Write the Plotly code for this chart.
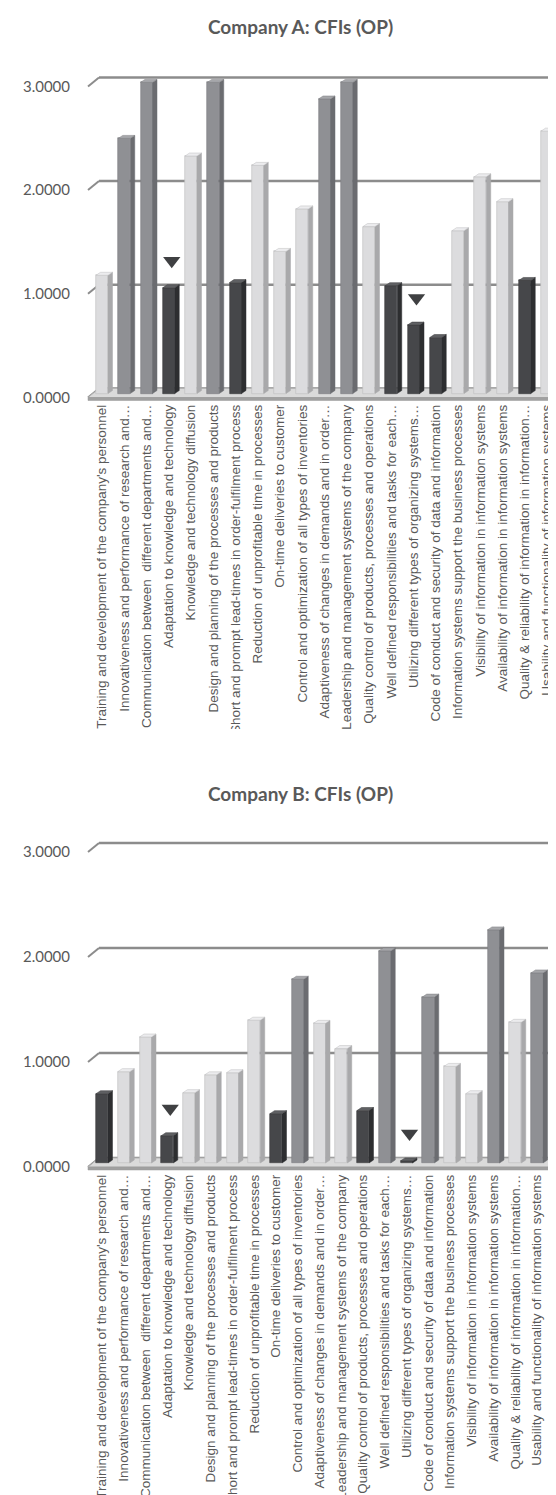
import plotly.graph_objects as go

# ---- data ----
categories = [
    "Training and development of the company's personnel",
    "Innovativeness and performance of research and…",
    "Communication between  different departments and…",
    "Adaptation to knowledge and technology",
    "Knowledge and technology diffusion",
    "Design and planning of the processes and products",
    "Short and prompt lead-times in order-fulfilment process",
    "Reduction of unprofitable time in processes",
    "On-time deliveries to customer",
    "Control and optimization of all types of inventories",
    "Adaptiveness of changes in demands and in order…",
    "Leadership and management systems of the company",
    "Quality control of products, processes and operations",
    "Well defined responsibilities and tasks for each…",
    "Utilizing different types of organizing systems…",
    "Code of conduct and security of data and information",
    "Information systems support the business processes",
    "Visibility of information in information systems",
    "Availability of information in information systems",
    "Quality & reliability of information in information…",
    "Usability and functionality of information systems",
]

company_a = [1.14, 2.46, 3.00, 1.02, 2.29, 3.00, 1.07, 2.20, 1.37, 1.78, 2.84,
             3.00, 1.61, 1.04, 0.66, 0.54, 1.57, 2.09, 1.85, 1.09, 2.53]
company_b = [0.66, 0.87, 1.20, 0.26, 0.67, 0.84, 0.86, 1.36, 0.47, 1.75, 1.33,
             1.09, 0.50, 2.02, 0.02, 1.58, 0.92, 0.66, 2.22, 1.34, 1.81]

shade_a = ['light', 'medium', 'medium', 'dark', 'light', 'medium', 'dark',
           'light', 'light', 'light', 'medium', 'medium', 'light', 'dark',
           'dark', 'dark', 'light', 'light', 'light', 'dark', 'light']
shade_b = ['dark', 'light', 'light', 'dark', 'light', 'light', 'light',
           'light', 'dark', 'medium', 'light', 'light', 'dark', 'medium',
           'dark', 'medium', 'light', 'light', 'medium', 'light', 'medium']

# bars marked with a triangle (index into categories)
flag_a = [3, 14]
flag_b = [3, 14]

y_ticks = [0, 1, 2, 3]
y_tick_text = ['0.0000', '1.0000', '2.0000', '3.0000']

# ---- styling ----
W, H = 556, 1495
SHADES = {
    'light':  dict(face='#dcdcde', side='#a9a9ab', top='#ececee', edge='#bdbdbf'),
    'medium': dict(face='#8f9094', side='#6b6c70', top='#a6a7aa', edge='#7c7d81'),
    'dark':   dict(face='#46474a', side='#2d2e30', top='#5f6063', edge='#3a3b3d'),
}
GRID = '#8c8c8c'
TEXT = '#595959'


def py(px):
    return 1 - px / H


charts = [
    dict(title='Company A: CFIs (OP)', values=company_a, shades=shade_a, flags=flag_a,
         xa='x', ya='y', title_px=19, zero_px=385.5, unit_px=103.7,
         x0_px=94, step_px=22.25, top_px=45, bottom_px=393),
    dict(title='Company B: CFIs (OP)', values=company_b, shades=shade_b, flags=flag_b,
         xa='x2', ya='y2', title_px=785, zero_px=1155, unit_px=105,
         x0_px=94, step_px=21.75, top_px=810, bottom_px=1163),
]

fig = go.Figure()
shapes = []
annotations = []
left_px = 76

for k, c in enumerate(charts):
    n = len(c['values'])
    sx, sy = c['step_px'], c['unit_px']
    xs = list(range(n))
    half = 6 / sx          # half width of the front face
    side = 4.5 / sx        # depth of the side face
    rise = 3 / sy          # rise of the top face
    xref, yref = c['xa'], c['ya']

    # back wall gridlines + short diagonal on the left edge
    fl_x = (80 - c['x0_px']) / sx
    bk_x = fl_x + 11 / sx
    x_end = (W - c['x0_px']) / sx
    for v in y_ticks:
        vf = v - 4 / sy
        vb = v + 5 / sy
        shapes.append(dict(type='line', xref=xref, yref=yref, x0=bk_x, x1=x_end,
                           y0=vb, y1=vb, line=dict(color=GRID, width=2.5), layer='below'))
        shapes.append(dict(type='line', xref=xref, yref=yref, x0=fl_x, x1=bk_x,
                           y0=vf, y1=vb, line=dict(color=GRID, width=2), layer='below'))

    # floor
    fr_x = (546 - c['x0_px']) / sx
    f0, f1, f2 = -4 / sy, 5 / sy, -7 / sy
    shapes.append(dict(type='path', xref=xref, yref=yref, layer='below',
                       path=f'M {fl_x},{f0} L {bk_x},{f1} L {fr_x + 11 / sx},{f1} L {fr_x},{f0} Z',
                       fillcolor='#dadada', line=dict(color='#b4b4b4', width=1)))
    shapes.append(dict(type='path', xref=xref, yref=yref, layer='below',
                       path=f'M {fl_x},{f0} L {fr_x},{f0} L {fr_x + 11 / sx},{f1} L {fr_x + 11 / sx},{f1 + f2 - f0} L {fr_x},{f2} L {fl_x},{f2} Z',
                       fillcolor='#a0a0a0', line=dict(color='#999999', width=0.5)))

    # front faces
    fig.add_trace(go.Bar(
        x=xs, y=c['values'], width=2 * half,
        marker=dict(color=[SHADES[s]['face'] for s in c['shades']],
                    line=dict(color=[SHADES[s]['edge'] for s in c['shades']], width=0.6)),
        xaxis=xref, yaxis=yref, showlegend=False, hoverinfo='skip'
    ))

    # side and top faces
    for i, (v, s) in enumerate(zip(c['values'], c['shades'])):
        xl, xr = i - half, i + half
        col = SHADES[s]
        shapes.append(dict(type='path', xref=xref, yref=yref, layer='above',
                           path=f'M {xr},0 L {xr + side},{rise} L {xr + side},{v + rise} L {xr},{v} Z',
                           fillcolor=col['side'], line=dict(color=col['side'], width=0.5)))
        shapes.append(dict(type='path', xref=xref, yref=yref, layer='above',
                           path=f'M {xl},{v} L {xl + side},{v + rise} L {xr + side},{v + rise} L {xr},{v} Z',
                           fillcolor=col['top'], line=dict(color=col['edge'], width=0.5)))

    # triangle markers above flagged bars
    fig.add_trace(go.Scatter(
        x=[i + 3 / sx for i in c['flags']],
        y=[c['values'][i] + 0.26 for i in c['flags']],
        mode='markers', marker=dict(symbol='triangle-down', size=15, color='#3f4042'),
        xaxis=xref, yaxis=yref, showlegend=False, hoverinfo='skip'
    ))

    ax = dict(
        domain=[left_px / W, 1],
        range=[(left_px - c['x0_px']) / sx, (W - c['x0_px']) / sx],
        tickmode='array', tickvals=xs, ticktext=categories, tickangle=-90,
        showgrid=False, zeroline=False, showline=False, ticks='',
        tickfont=dict(family='Liberation Sans, Arial, sans-serif', size=13.5, color=TEXT),
        anchor=yref, automargin=False,
    )
    ay = dict(
        domain=[py(c['bottom_px']), py(c['top_px'])],
        range=[(c['zero_px'] - c['bottom_px']) / sy, (c['zero_px'] - c['top_px']) / sy],
        tickmode='array', tickvals=[v - 4 / sy for v in y_ticks], ticktext=y_tick_text,
        showgrid=False, zeroline=False, showline=False,
        ticks='outside', ticklen=10, tickcolor='rgba(0,0,0,0)',
        tickfont=dict(family='Lato, Open Sans, sans-serif', size=15, color=TEXT),
        anchor=xref, automargin=False,
    )
    suffix = '' if k == 0 else str(k + 1)
    fig.update_layout(**{'xaxis' + suffix: ax, 'yaxis' + suffix: ay})

    annotations.append(dict(text='<b>' + c['title'] + '</b>', xref='paper', yref='paper',
                            x=292 / W, y=py(c['title_px']), showarrow=False,
                            font=dict(family='Lato, Open Sans, sans-serif', size=19, color=TEXT),
                            xanchor='center', yanchor='middle'))

# the first chart's category labels are cut off above the second chart
shapes.append(dict(type='rect', xref='paper', yref='paper', x0=0, x1=1,
                   y0=py(772), y1=py(721), fillcolor='white', line=dict(width=0), layer='above'))

fig.update_layout(
    width=W, height=H,
    margin=dict(l=0, r=0, t=0, b=0, autoexpand=False),
    paper_bgcolor='white', plot_bgcolor='rgba(0,0,0,0)',
    bargap=0, shapes=shapes, annotations=annotations,
)

fig.write_html("out.html")
